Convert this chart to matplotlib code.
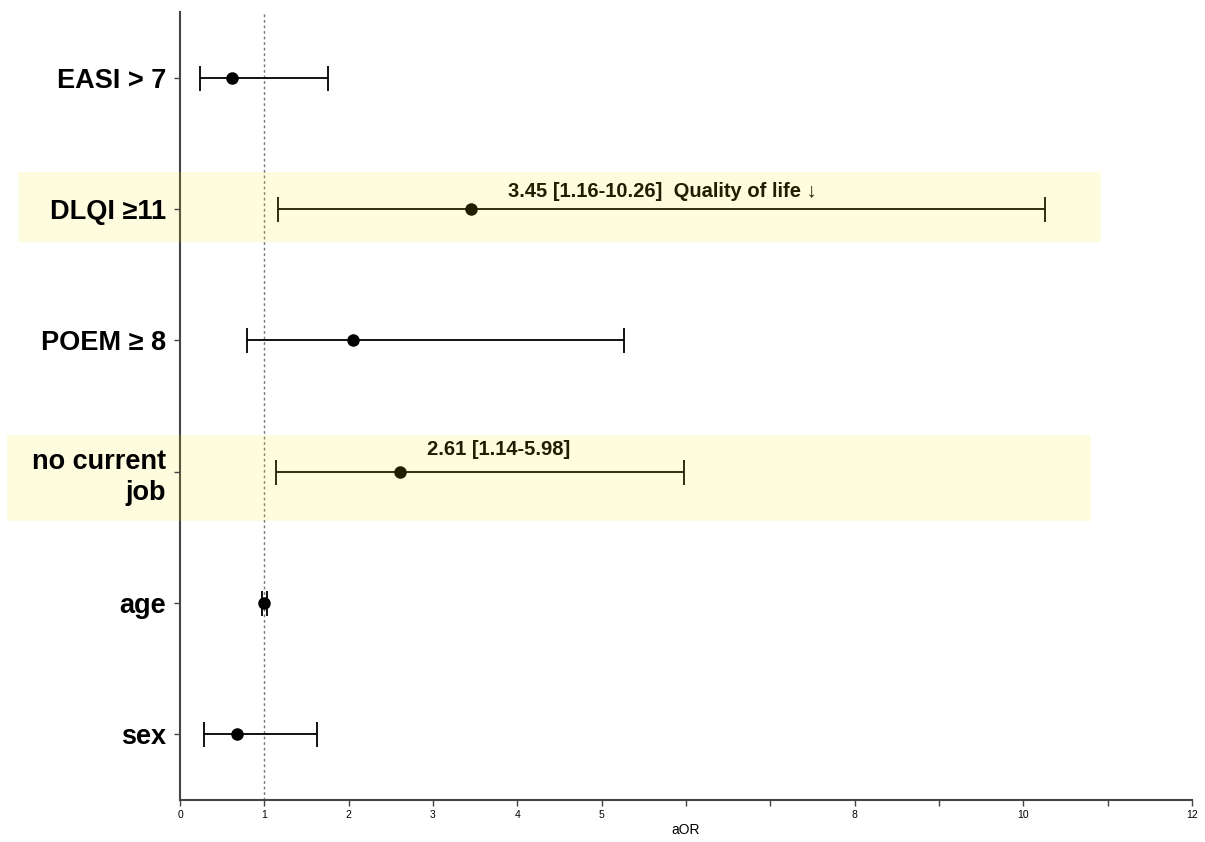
import matplotlib
matplotlib.use("Agg")
import matplotlib.pyplot as plt
from matplotlib.patches import Rectangle

labels = ["EASI > 7", "DLQI ≥11", "POEM ≥ 8", "no current\njob", "age", "sex"]
aor = [0.62, 3.45, 2.05, 2.61, 1.00, 0.68]
ci_low = [0.24, 1.16, 0.79, 1.14, 0.97, 0.28]
ci_high = [1.76, 10.26, 5.27, 5.98, 1.03, 1.62]
highlight = [False, True, False, True, False, False]
annotations = ["", "3.45 [1.16-10.26]  Quality of life \u2193", "", "2.61 [1.14-5.98]", "", ""]
annot_x = [0, 5.72, 0, 3.78, 0, 0]
annot_dy = [0, 0.13, 0, 0.17, 0, 0]
xticks = list(range(0, 13))
xticklabels = ["0", "1", "2", "3", "4", "5", "", "", "8", "", "10", "", "12"]

plt.rcParams['font.family'] = ['Liberation Sans', 'DejaVu Sans']

fig = plt.figure(figsize=(12.05, 8.42), dpi=100)
ax = fig.add_axes([180/1205, 1-800/842, (1192-180)/1205, (800-12)/842])

n = len(labels)
ypos = [n - 1 - i for i in range(n)]

ax.axvline(1, color="#777777", linestyle=(0, (2, 2)), linewidth=1.0, zorder=1)

for i in range(n):
    ax.errorbar(aor[i], ypos[i],
                xerr=[[aor[i] - ci_low[i]], [ci_high[i] - aor[i]]],
                fmt="o", color="black", ecolor="black", markersize=8,
                elinewidth=1.3, capsize=9, capthick=1.3, zorder=3)
    if annotations[i]:
        ax.text(annot_x[i], ypos[i] + annot_dy[i], annotations[i],
                ha="center", va="center", fontsize=14.5, fontweight="bold",
                color="black", zorder=4)

# highlight bands (semi-transparent overlay, extending left beyond the axis)
band_extents = {1: (18, 1101, 172, 242), 3: (7, 1091, 435, 521)}
for i in range(n):
    if highlight[i]:
        x0, x1, y0, y1 = band_extents[i]
        r = Rectangle((x0/1205, 1-y1/842), (x1-x0)/1205, (y1-y0)/842,
                      transform=fig.transFigure, facecolor=(0.97, 0.92, 0.05),
                      alpha=0.13, edgecolor="none", zorder=5, clip_on=False)
        ax.add_artist(r)

ax.set_xlim(0, 12)
ax.set_ylim(-0.5, n - 0.5)
ax.set_xticks(xticks)
ax.set_xticklabels(xticklabels, fontsize=7.5)
ax.set_yticks(ypos)
ax.set_yticklabels(labels, fontsize=19.5, fontweight="bold", linespacing=1.25)
ax.yaxis.set_zorder(6)
ax.set_xlabel("aOR", fontsize=10, labelpad=2)

for s in ["top", "right"]:
    ax.spines[s].set_visible(False)
for s in ["left", "bottom"]:
    ax.spines[s].set_color("#444444")
    ax.spines[s].set_linewidth(1.5)
ax.tick_params(axis="y", length=4, width=1, color="#444444", pad=6)
ax.tick_params(axis="x", length=4, width=1, color="#444444", pad=3)

fig.savefig("out.png", dpi=100)
